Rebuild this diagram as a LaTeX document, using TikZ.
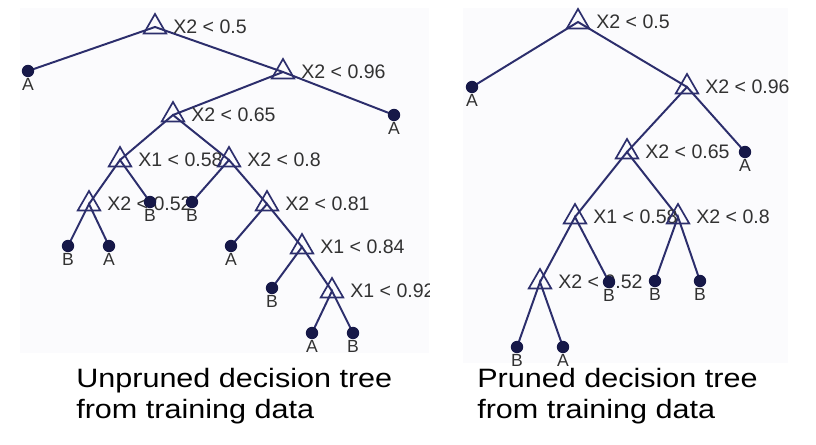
\documentclass[tikz,border=0pt]{standalone}
\usepackage{fontspec}
\setmainfont{Liberation Sans}
\newfontfamily\capfont[FakeStretch=1.15]{Liberation Sans}
\usetikzlibrary{shapes.geometric,backgrounds}
\definecolor{edgeblue}{RGB}{44,46,108}
\definecolor{leafblue}{RGB}{22,24,72}
\definecolor{labgray}{RGB}{50,50,50}
\definecolor{panelgray}{RGB}{251,251,253}

\begin{document}
\begin{tikzpicture}[
    x=0.025cm, y=-0.025cm,
    split/.style={regular polygon, regular polygon sides=3, draw=edgeblue, line width=1.2pt, minimum size=0.65cm, inner sep=0pt},
    splitlab/.style={font=\fontsize{13.9}{16}\selectfont, text=labgray, inner sep=0pt, label distance=0.24cm},
    leaf/.style={circle, fill=leafblue, minimum size=0.31cm, inner sep=0pt},
    leaflab/.style={font=\fontsize{12.5}{14}\selectfont, text=labgray, inner sep=0pt, label distance=0.3pt},
    branch/.style={draw=edgeblue, line width=1.4pt, line cap=round},
    caption/.style={font=\capfont\fontsize{18.9}{22}\selectfont, text=black, anchor=base west, inner sep=0pt}
]
\useasboundingbox (0,0) rectangle (816,445);

\begin{scope}[on background layer]
\fill[panelgray] (20,8) rectangle (429,353);
\fill[panelgray] (463,8) rectangle (788,363);
\end{scope}

% unpruned tree
\begin{scope}
\clip (15,3) rectangle (429,360);
\node[split, label={[splitlab]0:X2 < 0.5}] (uRoot) at (155,27) {};
\node[leaf, label={[leaflab]below:A}] (uA1) at (28,71) {};
\node[split, label={[splitlab]0:X2 < 0.96}] (u96) at (283,72) {};
\node[leaf, label={[leaflab]below:A}] (uA2) at (394,115) {};
\node[split, label={[splitlab]0:X2 < 0.65}] (u65) at (173,115) {};
\node[split, label={[splitlab]0:X1 < 0.58}] (u58) at (120,160) {};
\node[split, label={[splitlab]0:X2 < 0.8}] (u80) at (229,160) {};
\node[split, label={[splitlab]0:X2 < 0.52}] (u52) at (89,204) {};
\node[leaf, label={[leaflab]below:B}] (uB1) at (150,202) {};
\node[leaf, label={[leaflab]below:B}] (uB2) at (192,202) {};
\node[split, label={[splitlab]0:X2 < 0.81}] (u81) at (267,204) {};
\node[leaf, label={[leaflab]below:B}] (uB3) at (68,246) {};
\node[leaf, label={[leaflab]below:A}] (uA3) at (109,246) {};
\node[leaf, label={[leaflab]below:A}] (uA4) at (231,246) {};
\node[split, label={[splitlab]0:X1 < 0.84}] (u84) at (302,247) {};
\node[leaf, label={[leaflab]below:B}] (uB4) at (272,288) {};
\node[split, label={[splitlab]0:X1 < 0.92}] (u92) at (332,291) {};
\node[leaf, label={[leaflab]below:A}] (uA5) at (312,333) {};
\node[leaf, label={[leaflab]below:B}] (uB5) at (353,333) {};
\end{scope}

% pruned tree
\node[split, label={[splitlab]0:X2 < 0.5}] (pRoot) at (578,22) {};
\node[leaf, label={[leaflab]below:A}] (pA1) at (472,87) {};
\node[split, label={[splitlab]0:X2 < 0.96}] (p96) at (687,87) {};
\node[leaf, label={[leaflab]below:A}] (pA2) at (745,152) {};
\node[split, label={[splitlab]0:X2 < 0.65}] (p65) at (627,152) {};
\node[split, label={[splitlab]0:X1 < 0.58}] (p58) at (575,217) {};
\node[split, label={[splitlab]0:X2 < 0.8}] (p80) at (678,217) {};
\node[split, label={[splitlab]0:X2 < 0.52}] (p52) at (540,282) {};
\node[leaf, label={[leaflab]below:B}] (pB1) at (609,282) {};
\node[leaf, label={[leaflab]below:B}] (pB2) at (655,281) {};
\node[leaf, label={[leaflab]below:B}] (pB3) at (700,281) {};
\node[leaf, label={[leaflab]below:B}] (pB4) at (517,347) {};
\node[leaf, label={[leaflab]below:A}] (pA3) at (563,347) {};

\begin{scope}[on background layer]
\draw[branch] (uA1.center) -- (uRoot.center) -- (u96.center);
\draw[branch] (u65.center) -- (u96.center) -- (uA2.center);
\draw[branch] (u58.center) -- (u65.center) -- (u80.center);
\draw[branch] (u52.center) -- (u58.center) -- (uB1.center);
\draw[branch] (uB3.center) -- (u52.center) -- (uA3.center);
\draw[branch] (uB2.center) -- (u80.center) -- (u81.center);
\draw[branch] (uA4.center) -- (u81.center) -- (u84.center);
\draw[branch] (uB4.center) -- (u84.center) -- (u92.center);
\draw[branch] (uA5.center) -- (u92.center) -- (uB5.center);
\draw[branch] (pA1.center) -- (pRoot.center) -- (p96.center);
\draw[branch] (p65.center) -- (p96.center) -- (pA2.center);
\draw[branch] (p58.center) -- (p65.center) -- (p80.center);
\draw[branch] (p52.center) -- (p58.center) -- (pB1.center);
\draw[branch] (pB2.center) -- (p80.center) -- (pB3.center);
\draw[branch] (pB4.center) -- (p52.center) -- (pA3.center);
\end{scope}

\node[caption] (capL1) at (76,387) {Unpruned decision tree};
\node[caption] (capL2) at (76,418) {from training data};
\node[caption] (capR1) at (477,387) {Pruned decision tree};
\node[caption] (capR2) at (477,418) {from training data};

\end{tikzpicture}
\end{document}
